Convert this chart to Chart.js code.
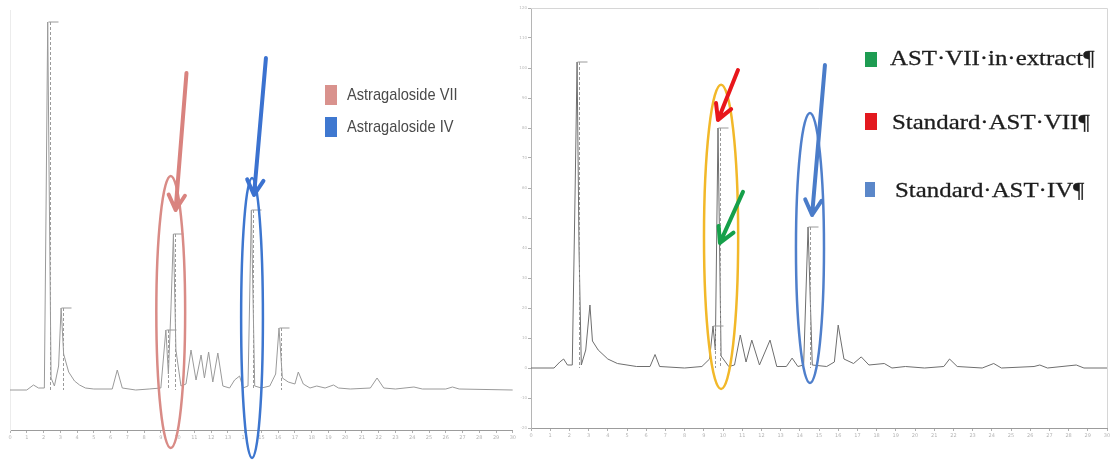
<!DOCTYPE html>
<html lang="en">
<head>
<meta charset="UTF-8">
<meta name="viewport" content="width=device-width, initial-scale=1.0">
<title>Astragaloside chromatograms</title>
<style>
  body { margin: 0; background: #fff; }
  .main { position: relative; width: 1114px; height: 461px; overflow: hidden; background: #fff; }
  canvas { position: absolute; top: 0; }
  #esquerda { left: 0; }
  #direita { left: 518px; }
  .sw { position: absolute; }
  .txt { position: absolute; white-space: nowrap; height: 24px; line-height: 24px; transform-origin: left center; }
  .leg1 { font-family: "Liberation Sans", "DejaVu Sans", sans-serif; font-size: 17px; color: #4a4a4a; transform: scaleX(0.86); }
  .leg2 { font-family: "Liberation Serif", "DejaVu Serif", serif; font-size: 22px; color: #1e1e1e; transform: scaleX(1.13); -webkit-text-stroke: 0.3px #1e1e1e; }
</style>
</head>
<body>
<div class="main">
  <canvas id="esquerda" width="518" height="461"></canvas>
  <canvas id="direita" width="596" height="461"></canvas>

  <div class="sw" style="left:325px;top:85px;width:12px;height:20px;background:#d9928d"></div>
  <div class="txt leg1" style="left:347px;top:83px">Astragaloside VII</div>
  <div class="sw" style="left:325px;top:117px;width:12px;height:20px;background:#3f78d0"></div>
  <div class="txt leg1" style="left:347px;top:115px">Astragaloside IV</div>

  <div class="sw" style="left:865px;top:52px;width:12px;height:15px;background:#1e9c52"></div>
  <div class="txt leg2" style="left:890px;top:46px">AST·VII·in·extract¶</div>
  <div class="sw" style="left:865px;top:113px;width:12px;height:17px;background:#e3191f"></div>
  <div class="txt leg2" style="left:892px;top:110px">Standard·AST·VII¶</div>
  <div class="sw" style="left:865px;top:182px;width:10px;height:15px;background:#5b87c9"></div>
  <div class="txt leg2" style="left:895px;top:178px">Standard·AST·IV¶</div>
</div>
<script src="https://cdn.jsdelivr.net/npm/chart.js"></script>
<script>
// retention time (min) and detector signal
var leftTime = [0, 1.0, 1.4, 1.7, 2.05, 2.15, 2.25, 2.33, 2.45, 2.65, 2.9, 3.05, 3.2, 3.5, 3.85, 4.15, 4.5, 5.0,
  6.1, 6.4, 6.7, 7.5, 8.3, 9.0, 9.3, 9.45, 9.6, 9.75, 9.9, 10.2, 10.5, 10.8, 11.1, 11.4, 11.6, 11.85, 12.1, 12.4,
  12.7, 13.1, 13.4, 13.7, 13.9, 14.2, 14.4, 14.6, 15.0, 15.5, 15.85, 16.05, 16.25, 16.6, 17.0, 17.2, 17.5, 17.9,
  18.3, 18.8, 19.3, 19.6, 20.3, 21.5, 21.9, 22.3, 23.0, 24.1, 24.6, 26.0, 26.4, 26.8, 30];
var leftSignal = [0, 0, 2.5, 1, 1, 90, 184, 110, 6, 2, 12, 41, 18, 9, 4.5, 2.5, 1, 0.5,
  0.5, 10, 1, 0, 0.5, 1, 30, 8, 40, 78, 20, 2, 3, 20, 5, 17.5, 6, 19, 4, 18.5,
  2, 1, 5, 7, 1, 2, 90, 2, 1, 2, 8, 31, 6, 4, 3, 9, 3, 1,
  2, 1, 2.5, 1, 0.5, 1, 6, 1, 0.5, 1.5, 0.5, 0.5, 1.5, 0.5, 0];

var rightTime = [0, 1.2, 1.5, 1.7, 1.9, 2.15, 2.3, 2.4, 2.5, 2.62, 2.85, 3.07, 3.2, 3.5, 4.0, 4.5, 5.5,
  6.2, 6.46, 6.7, 8.0, 8.9, 9.3, 9.48, 9.6, 9.74, 9.9, 10.3, 10.6, 10.9, 11.2, 11.5, 11.9, 12.45, 12.8,
  13.3, 13.6, 13.9, 14.2, 14.43, 14.65, 15.4, 15.8, 16.0, 16.3, 16.8, 17.2, 17.6, 18.4, 18.8, 19.5, 20.5,
  21.5, 21.8, 22.2, 23.5, 24.1, 24.5, 26.2, 26.5, 26.9, 28.4, 28.8, 30];
var rightSignal = [0, 0, 2, 3, 1, 1, 60, 102, 40, 1, 6, 21, 9, 6, 3, 1.5, 0.5,
  0.5, 4.5, 0.5, 0, 0.5, 3, 14, 6, 80, 4, 0.5, 1, 11, 2, 9.3, 1, 9.3, 0.5,
  0.5, 3.3, 0.5, 1, 47, 1, 0.5, 2, 14.3, 3, 1.5, 3.7, 1, 1.5, 0, 0.5, 0,
  0.5, 3, 0.5, 0, 1.5, 0, 0.5, 1, 0, 1, 0, 0];

// peaks that carry an integration marker
var leftMarked = [2.25, 3.05, 9.3, 9.75, 14.4, 16.05];
var rightMarked = [2.4, 9.48, 9.74, 14.43];

// y axis tick values (right panel)
var rightYTicks = [-20, -10, 0, 10, 20, 30, 40, 50, 60, 70, 80, 90, 100, 110, 120];

// annotations, in axis units
var leftNotes = {
  ellipses: [
    { t: 9.59, v: 39, dt: 0.86, dv: 68, color: '#d98b86' },
    { t: 14.44, v: 36, dt: 0.65, dv: 70, color: '#3d76cf' }
  ],
  arrows: [
    { t0: 10.53, v0: 158.5, t1: 9.88, v1: 90, color: '#d9837f' },
    { t0: 15.27, v0: 166, t1: 14.56, v1: 97.5, color: '#3b72d0' }
  ]
};
var rightNotes = {
  ellipses: [
    { t: 9.9, v: 43.7, dt: 0.89, dv: 50.7, color: '#f2b829' },
    { t: 14.53, v: 40, dt: 0.73, dv: 45, color: '#4f7fcb' }
  ],
  arrows: [
    { t0: 10.78, v0: 99.3, t1: 9.74, v1: 82.7, color: '#e8161b' },
    { t0: 11.04, v0: 58.7, t1: 9.84, v1: 41.7, color: '#16a04a' },
    { t0: 15.31, v0: 101, t1: 14.64, v1: 51, color: '#4a7cc9' }
  ]
};

function pontos(tempo, sinal) {
  return tempo.map(function (t, i) { return { x: t, y: sinal[i] }; });
}

var desenhos = {
  id: 'desenhos',
  afterDraw: function (chart, args, opts) {
    var ctx = chart.ctx;
    var x = chart.scales.x, y = chart.scales.y;
    var area = chart.chartArea;
    ctx.save();

    if (opts.frame) {
      ctx.strokeStyle = '#d6d6d6';
      ctx.lineWidth = 1;
      ctx.beginPath();
      ctx.moveTo(area.left, area.top + 0.5);
      ctx.lineTo(area.right + 0.5, area.top + 0.5);
      ctx.lineTo(area.right + 0.5, area.bottom);
      ctx.stroke();
    }

    // integration markers
    var tempo = opts.tempo, sinal = opts.sinal;
    ctx.strokeStyle = '#9a9a9a';
    ctx.lineWidth = 1;
    opts.marked.forEach(function (pt) {
      var i = tempo.indexOf(pt);
      if (i < 0) return;
      var px = Math.round(x.getPixelForValue(pt)) + 0.5;
      var py = y.getPixelForValue(sinal[i]);
      var p0 = y.getPixelForValue(0);
      ctx.setLineDash([3, 2]);
      ctx.beginPath();
      ctx.moveTo(px + 2, py);
      ctx.lineTo(px + 2, p0);
      ctx.stroke();
      ctx.setLineDash([]);
      ctx.beginPath();
      ctx.moveTo(px, py);
      ctx.lineTo(px + 10, py);
      ctx.stroke();
    });

    (opts.ellipses || []).forEach(function (e) {
      var cx = x.getPixelForValue(e.t), cy = y.getPixelForValue(e.v);
      var rx = Math.abs(x.getPixelForValue(e.t + e.dt) - cx);
      var ry = Math.abs(y.getPixelForValue(e.v + e.dv) - cy);
      ctx.strokeStyle = e.color;
      ctx.lineWidth = 2.5;
      ctx.beginPath();
      ctx.ellipse(cx, cy, rx, ry, 0, 0, Math.PI * 2);
      ctx.stroke();
    });

    (opts.arrows || []).forEach(function (a) {
      var x0 = x.getPixelForValue(a.t0), y0 = y.getPixelForValue(a.v0);
      var x1 = x.getPixelForValue(a.t1), y1 = y.getPixelForValue(a.v1);
      var ang = Math.atan2(y1 - y0, x1 - x0);
      var L = 17, w = 0.5;
      ctx.strokeStyle = a.color;
      ctx.lineWidth = 4;
      ctx.lineCap = 'round';
      ctx.lineJoin = 'round';
      ctx.beginPath();
      ctx.moveTo(x0, y0);
      ctx.lineTo(x1, y1);
      ctx.moveTo(x1 - L * Math.cos(ang - w), y1 - L * Math.sin(ang - w));
      ctx.lineTo(x1, y1);
      ctx.lineTo(x1 - L * Math.cos(ang + w), y1 - L * Math.sin(ang + w));
      ctx.stroke();
    });
    ctx.restore();
  }
};

function eixoX(altura) {
  return {
    type: 'linear', min: 0, max: 30,
    ticks: { stepSize: 1, autoSkip: false, maxRotation: 0, color: '#b4b4b4', font: { size: 5, family: 'DejaVu Sans' }, padding: 2 },
    grid: { drawOnChartArea: false, tickLength: 3, color: '#b0b0b0' },
    border: { color: '#9c9c9c', width: 1 },
    afterFit: function (s) { s.height = altura; }
  };
}

new Chart(document.getElementById('esquerda'), {
  type: 'line',
  data: {
    datasets: [{
      label: 'Sample',
      data: pontos(leftTime, leftSignal),
      borderColor: '#9a9a9a',
      borderWidth: 1,
      pointRadius: 0,
      tension: 0
    }]
  },
  options: {
    responsive: false,
    animation: false,
    devicePixelRatio: 1,
    layout: { padding: { left: 10, right: 1, top: 10, bottom: 0 } },
    scales: {
      x: eixoX(31),
      y: {
        type: 'linear', min: -20, max: 190,
        ticks: { display: false },
        grid: { drawOnChartArea: false, drawTicks: false },
        border: { color: '#ececec' },
        afterFit: function (s) { s.width = 0; }
      }
    },
    plugins: {
      legend: { display: false },
      tooltip: { enabled: false },
      desenhos: {
        tempo: leftTime, sinal: leftSignal, marked: leftMarked,
        ellipses: leftNotes.ellipses, arrows: leftNotes.arrows, frame: false
      }
    }
  },
  plugins: [desenhos]
});

new Chart(document.getElementById('direita'), {
  type: 'line',
  data: {
    datasets: [{
      label: 'Extract + standards',
      data: pontos(rightTime, rightSignal),
      borderColor: '#6e6e6e',
      borderWidth: 1,
      pointRadius: 0,
      tension: 0
    }]
  },
  options: {
    responsive: false,
    animation: false,
    devicePixelRatio: 1,
    layout: { padding: { left: 0, right: 7, top: 8, bottom: 0 } },
    scales: {
      x: eixoX(33),
      y: {
        type: 'linear', min: -20, max: 120,
        afterBuildTicks: function (s) { s.ticks = rightYTicks.map(function (v) { return { value: v }; }); },
        ticks: { color: '#b8b8b8', font: { size: 4, family: 'DejaVu Sans' }, padding: 1 },
        grid: { drawOnChartArea: false, tickLength: 3, color: '#b0b0b0' },
        border: { color: '#b5b5b5' },
        afterFit: function (s) { s.width = 13; }
      }
    },
    plugins: {
      legend: { display: false },
      tooltip: { enabled: false },
      desenhos: {
        tempo: rightTime, sinal: rightSignal, marked: rightMarked,
        ellipses: rightNotes.ellipses, arrows: rightNotes.arrows, frame: true
      }
    }
  },
  plugins: [desenhos]
});
</script>
</body>
</html>
